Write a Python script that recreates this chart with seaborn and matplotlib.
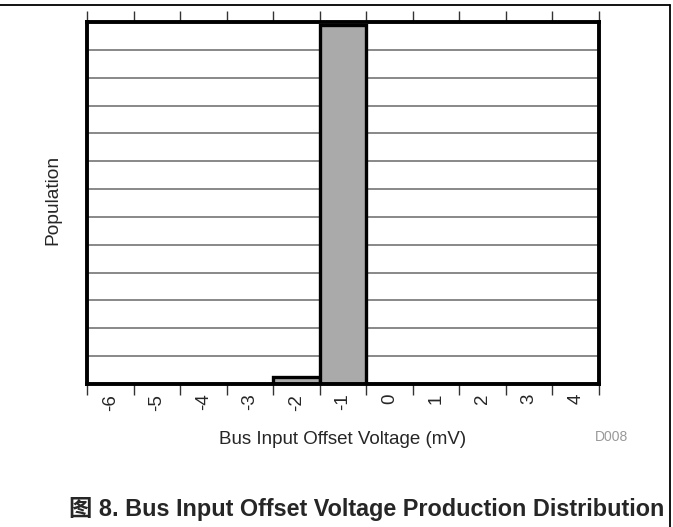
import numpy as np
import pandas as pd
import matplotlib
matplotlib.use("Agg")
import matplotlib.pyplot as plt
from matplotlib.lines import Line2D
import seaborn as sns

# Production distribution of bus input offset voltage
offset_mv = [-6, -5, -4, -3, -2, -1, 0, 1, 2, 3, 4]
population = [0, 0, 0, 0, 24, 1290, 0, 0, 0, 0, 0]
tick_labels = ["-6", "-5", "-4", "-3", "-2", "-1", "0", "1", "2", "3", "4"]
grid_levels = list(range(100, 1300, 100))

sns.set_theme(style="white")
plt.rcParams["font.family"] = ["Liberation Sans", "Noto Sans CJK SC", "DejaVu Sans"]

df = pd.DataFrame({"offset": offset_mv, "count": population})

fig = plt.figure(figsize=(6.73, 5.27), dpi=100)
ax = fig.add_axes([87 / 673, 1 - 384 / 527, 512 / 673, 362 / 527])

for g in grid_levels:
    ax.axhline(g, color="#888888", lw=1.4, zorder=0.5)

sns.histplot(data=df, x="offset", weights="count", discrete=True, ax=ax,
             color="#aaaaaa", edgecolor="black", linewidth=2.4)
for p in ax.patches:
    p.set_alpha(1.0)
    p.set_facecolor("#aaaaaa")
    p.set_edgecolor("black")
    p.set_zorder(3)

ax.set_xlim(-6.5, 4.5)
ax.set_ylim(0, 1300)
ax.set_yticks([])

ax.set_xticks(offset_mv)
ax.set_xticklabels(tick_labels, rotation=90, fontsize=13.5)
ax.tick_params(axis="x", which="major", length=0, pad=7)
edges = [v - 0.5 for v in offset_mv] + [offset_mv[-1] + 0.5]
ax.set_xticks(edges, minor=True)
ax.tick_params(axis="x", which="minor", length=8, width=1.0, color="#333333",
               direction="out", top=True, bottom=True)

for s in ax.spines.values():
    s.set_visible(True)
    s.set_color("black")
    s.set_linewidth(2.8)
    s.set_zorder(4)

ax.set_xlabel("Bus Input Offset Voltage (mV)", fontsize=13.5, labelpad=15)
ax.set_ylabel("Population", fontsize=13.8)
ax.yaxis.set_label_coords(-0.051, 0.508)

fig.text(612 / 673, 1 - 437 / 527, "D008", fontsize=10, color="#999999",
         ha="center", va="center")
fig.text(367 / 673, 1 - 509 / 527,
         "图 8. Bus Input Offset Voltage Production Distribution",
         fontsize=16.8, fontweight="bold", ha="center", va="center")

# page frame
fig.add_artist(Line2D([0, 670 / 673], [1 - 5 / 527, 1 - 5 / 527],
                      transform=fig.transFigure, color="black", lw=1.3))
fig.add_artist(Line2D([670 / 673, 670 / 673], [1 - 5 / 527, 0],
                      transform=fig.transFigure, color="black", lw=1.3))

fig.savefig("out.png", dpi=100)
